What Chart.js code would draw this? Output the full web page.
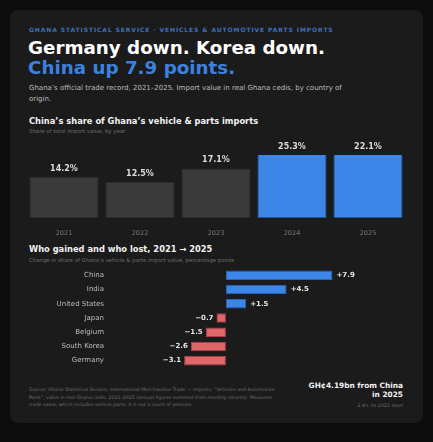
<!DOCTYPE html>
<html><head><meta charset="utf-8">
<script src="https://cdn.jsdelivr.net/npm/chart.js@4/dist/chart.umd.min.js"></script>
<style>
  body{margin:0;background:#0c0c0c;width:433px;height:442px;overflow:hidden;font-family:"DejaVu Sans",sans-serif;}
  .card{position:absolute;left:10px;top:10px;width:413px;height:413px;background:#1b1b1b;border-radius:8px;}
  .t{position:absolute;white-space:nowrap;}
</style></head>
<body>
<div class="card"></div>
<div class="t" style="left:29px;top:26px;font-size:6px;font-weight:bold;letter-spacing:0.9px;color:#3d6fb8;">GHANA STATISTICAL SERVICE · VEHICLES &amp; AUTOMOTIVE PARTS IMPORTS</div>
<div class="t" style="left:28px;top:38px;font-size:18.3px;font-weight:bold;color:#fff;line-height:20px;">Germany down. Korea down.<br><span style="color:#3b82e0">China up 7.9 points.</span></div>
<div class="t" style="left:29px;top:83px;font-size:7px;color:#bdbdbd;line-height:10.5px;">Ghana’s official trade record, 2021–2025. Import value in real Ghana cedis, by country of<br>origin.</div>
<div class="t" style="left:29px;top:116px;font-size:8.3px;font-weight:bold;color:#f2f2f2;">China’s share of Ghana’s vehicle &amp; parts imports</div>
<div class="t" style="left:29px;top:128px;font-size:5.4px;color:#6e6e6e;">Share of total import value, by year</div>
<div style="position:absolute;left:26px;top:140px;width:380px;height:100px;"><canvas id="c1"></canvas></div>
<div class="t" style="left:29px;top:244px;font-size:8.3px;font-weight:bold;color:#f2f2f2;">Who gained and who lost, 2021 → 2025</div>
<div class="t" style="left:29px;top:257px;font-size:5.4px;color:#6e6e6e;">Change in share of Ghana’s vehicle &amp; parts import value, percentage points</div>
<div style="position:absolute;left:28px;top:258px;width:376px;height:120px;"><canvas id="c2"></canvas></div>
<div class="t" style="left:29px;top:386px;font-size:4.7px;color:#6e6e6e;line-height:7.7px;">Source: Ghana Statistical Service, International Merchandise Trade — Imports, “Vehicles and Automotive<br>Parts”, value in real Ghana cedis, 2021–2025 (annual figures summed from monthly returns). Measures<br>trade value, which includes vehicle parts; it is not a count of vehicles.</div>
<div class="t" style="right:30px;top:381px;font-size:7.4px;font-weight:bold;color:#f2f2f2;text-align:right;line-height:9.4px;">GH¢4.19bn from China<br>in 2025</div>
<div class="t" style="right:30px;top:403px;font-size:4.8px;color:#6e6e6e;">2.4× its 2021 level</div>
<script>
const years = ["2021", "2022", "2023", "2024", "2025"];
const chinaShare = [14.2, 12.5, 17.1, 25.3, 22.1];
const countries = ["China", "India", "United States", "Japan", "Belgium", "South Korea", "Germany"];
const shareChange = [7.9, 4.5, 1.5, -0.7, -1.5, -2.6, -3.1];

Chart.defaults.font.family = "DejaVu Sans";
Chart.defaults.animation = false;

const topLabels = {
  id: "topLabels",
  afterDatasetsDraw(chart) {
    const { ctx, chartArea } = chart;
    const meta = chart.getDatasetMeta(0);
    ctx.save();
    ctx.font = "bold 8px DejaVu Sans";
    ctx.fillStyle = "#dcdcdc";
    ctx.textAlign = "center";
    ctx.textBaseline = "bottom";
    meta.data.forEach((bar, i) => {
      const y = Math.max(bar.y, chartArea.top);
      ctx.fillText(chinaShare[i].toFixed(1) + "%", bar.x, y - 4);
    });
    ctx.restore();
  }
};

new Chart(document.getElementById("c1"), {
  type: "bar",
  data: {
    labels: years,
    datasets: [{
      data: chinaShare,
      backgroundColor: chinaShare.map((v, i) => i >= 3 ? "#3b86e6" : "#3a3a3a"),
      borderColor: chinaShare.map((v, i) => i >= 3 ? "#1e4f8e" : "#2e2e2e"),
      borderWidth: 1,
      borderSkipped: false,
      categoryPercentage: 0.94,
      barPercentage: 0.97
    }]
  },
  options: {
    responsive: true, maintainAspectRatio: false,
    layout: { padding: { top: 15 } },
    plugins: { legend: { display: false }, tooltip: { enabled: false } },
    scales: {
      x: { grid: { display: false }, border: { display: false },
           ticks: { color: "#777", font: { size: 6.5 }, padding: 3 } },
      y: { display: false, min: 0, max: 21.7 }
    }
  },
  plugins: [topLabels]
});

const sideLabels = {
  id: "sideLabels",
  afterDatasetsDraw(chart) {
    const { ctx } = chart;
    const meta = chart.getDatasetMeta(0);
    ctx.save();
    ctx.font = "bold 7px DejaVu Sans";
    ctx.fillStyle = "#e8e8e8";
    ctx.textBaseline = "middle";
    meta.data.forEach((bar, i) => {
      const v = shareChange[i];
      if (v >= 0) {
        ctx.textAlign = "left";
        ctx.fillText("+" + v.toFixed(1), bar.x + 4, bar.y);
      } else {
        ctx.textAlign = "right";
        ctx.fillText("−" + Math.abs(v).toFixed(1), bar.x - 3, bar.y);
      }
    });
    ctx.restore();
  }
};

new Chart(document.getElementById("c2"), {
  type: "bar",
  data: {
    labels: countries,
    datasets: [{
      data: shareChange,
      backgroundColor: shareChange.map(v => v >= 0 ? "#3b86e6" : "#e0666a"),
      borderColor: shareChange.map(v => v >= 0 ? "#2a66b8" : "#a84448"),
      borderWidth: 1,
      borderSkipped: false,
      categoryPercentage: 1,
      barPercentage: 0.66
    }]
  },
  options: {
    indexAxis: "y",
    responsive: true, maintainAspectRatio: false,
    layout: { padding: 0 },
    plugins: { legend: { display: false }, tooltip: { enabled: false } },
    scales: {
      x: { display: false, min: -8, max: 13.2 },
      y: {
        grid: { display: false }, border: { display: false },
        ticks: { color: "#bdbdbd", font: { size: 7 }, padding: 6 },
        afterFit(axis) { axis.width = 90; }
      }
    }
  },
  plugins: [sideLabels]
});
</script>
</body></html>
